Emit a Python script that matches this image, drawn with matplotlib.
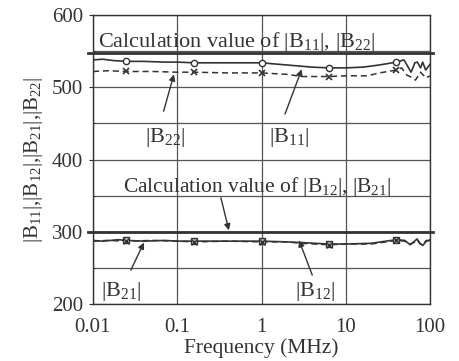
import matplotlib
matplotlib.use("Agg")
import matplotlib.pyplot as plt

plt.rcParams['font.family'] = ['Liberation Serif', 'DejaVu Serif']
plt.rcParams['mathtext.fontset'] = 'custom'
plt.rcParams['mathtext.rm'] = 'Liberation Serif'
plt.rcParams['mathtext.it'] = 'Liberation Serif:italic'

# measured |B11| (solid) and |B22| (dashed)
freq_b11 = [0.01, 0.013, 0.018, 0.025, 0.04, 0.07, 0.1, 0.16, 0.3, 0.6, 1.0, 2.0, 4.0,
            6.3, 10, 16, 25, 40, 49, 59.5, 66, 70.6, 77, 81.6, 88.6, 94, 100]
b11 = [538, 539, 537, 536, 536, 535, 535, 534, 534, 534, 534, 531, 528,
       527, 527, 528, 531, 535, 538, 521, 534, 535, 527, 535, 524, 528, 532]

freq_b22 = [0.01, 0.015, 0.025, 0.05, 0.1, 0.16, 0.4, 1.0, 2.0, 3.0, 6.3, 10, 18,
            25, 40, 46, 53, 60, 67, 77, 83, 89, 100]
b22 = [522, 523, 522, 522, 521, 521, 520, 520, 518, 515, 515, 516, 516,
       520, 524, 527, 517, 514, 510, 521, 517, 513, 516]

# measured |B12| (solid) and |B21| (dashed)
freq_b12 = [0.01, 0.013, 0.02, 0.025, 0.04, 0.07, 0.1, 0.16, 0.4, 1.0, 2.0, 3.0,
            6.3, 10, 20, 30, 40, 50, 58, 64, 70, 76, 82, 90, 100]
b12 = [288, 287, 289, 288, 287, 288, 287, 287, 287, 287, 286, 285,
       283, 283, 284, 287, 289, 288, 282, 286, 290, 284, 281, 287, 289]
freq_b21 = [0.01, 0.015, 0.025, 0.05, 0.1, 0.16, 0.4, 1.0, 2.0, 3.0, 6.3, 10, 20,
            30, 40, 50, 58, 64, 70, 76, 82, 90, 100]
b21 = [287, 288, 287, 288, 287, 286, 287, 286, 286, 284, 282, 283, 283,
       286, 288, 287, 283, 285, 289, 283, 282, 288, 287]

# marker positions (every 0.8 decade)
freq_marks = [0.025, 0.158, 1.0, 6.3, 39.8]
b11_marks = [536, 534, 534, 527, 535]
b22_marks = [522, 521, 520, 515, 524]
b12_marks = [288, 287, 287, 283, 289]
b21_marks = [287, 286, 286, 282, 288]

calc_b11 = 547
calc_b12 = 300

x_ticks = [0.01, 0.1, 1, 10, 100]
x_labels = ["0.01", "0.1", "1", "10", "100"]
y_ticks = [200, 300, 400, 500, 600]

ink = "#333333"

fig = plt.figure(figsize=(4.6, 3.61), dpi=100)
ax = fig.add_axes([0.202, 0.158, 0.733, 0.8])

ax.set_xscale("log")
ax.set_xlim(0.01, 100)
ax.set_ylim(200, 600)
ax.set_xticks(x_ticks)
ax.set_xticklabels(x_labels)
ax.minorticks_off()
ax.set_yticks(y_ticks)
ax.set_yticks([250, 350, 450, 550], minor=True)
ax.grid(True, which="both", color="#555555", linewidth=0.9)
ax.set_axisbelow(True)
for s in ax.spines.values():
    s.set_color(ink)
    s.set_linewidth(1.0)
ax.tick_params(axis="both", which="major", labelsize=15, colors=ink,
               direction="out", length=3, pad=4)
ax.tick_params(axis="y", which="minor", length=2, direction="in", colors=ink)
ax.tick_params(axis="x", length=0, pad=10)

# calculated values, drawn a little past both spines
ax.axhline(calc_b11, xmin=-0.015, xmax=1.01, color=ink, linewidth=2.0, clip_on=False)
ax.axhline(calc_b12, xmin=-0.015, xmax=1.01, color=ink, linewidth=2.0, clip_on=False)

ax.plot(freq_b11, b11, color=ink, linewidth=1.2)
ax.plot(freq_b22, b22, color=ink, linewidth=1.1, linestyle=(0, (4, 2.5)))
ax.plot(freq_b12, b12, color=ink, linewidth=1.2)
ax.plot(freq_b21, b21, color=ink, linewidth=1.1, linestyle=(0, (4, 2.5)))

ax.plot(freq_marks, b11_marks, "o", color=ink, markerfacecolor="white",
        markersize=4.5, markeredgewidth=1.0, linestyle="none")
ax.plot(freq_marks, b22_marks, "x", color=ink, markersize=5,
        markeredgewidth=1.2, linestyle="none")
ax.plot(freq_marks, b12_marks, "s", color=ink, markerfacecolor="#bbbbbb",
        markersize=5, markeredgewidth=1.0, linestyle="none")
ax.plot(freq_marks, b21_marks, "x", color=ink, markersize=4,
        markeredgewidth=1.0, linestyle="none")

ax.text(0.0114, 556, "Calculation value of |B$_{11}$|, |B$_{22}$|",
        fontsize=16, color=ink, va="baseline", ha="left")
ax.text(0.88, 355, "Calculation value of |B$_{12}$|, |B$_{21}$|",
        fontsize=15.5, color=ink, va="baseline", ha="center")

arrow = dict(arrowstyle="-|>", color=ink, linewidth=1.0, mutation_scale=9,
             shrinkA=0, shrinkB=0)
label_kw = dict(fontsize=16, color=ink, ha="center", va="center")

ax.text(0.0716, 431, "|B$_{22}$|", **label_kw)
ax.annotate("", xy=(0.0914, 518), xytext=(0.069, 467), arrowprops=arrow)
ax.text(2.12, 431, "|B$_{11}$|", **label_kw)
ax.annotate("", xy=(3.0, 525), xytext=(1.9, 463), arrowprops=arrow)
ax.annotate("", xy=(0.41, 302), xytext=(0.33, 347), arrowprops=arrow)
ax.text(0.0215, 217, "|B$_{21}$|", **label_kw)
ax.annotate("", xy=(0.0403, 285), xytext=(0.0282, 247), arrowprops=arrow)
ax.text(4.3, 217, "|B$_{12}$|", **label_kw)
ax.annotate("", xy=(2.79, 288), xytext=(4.0, 240), arrowprops=arrow)

ax.set_xlabel("Frequency (MHz)", fontsize=15.5, color=ink, labelpad=1)
ax.set_ylabel("|B$_{11}$|,|B$_{12}$|,|B$_{21}$|,|B$_{22}$|",
              fontsize=15, color=ink, labelpad=5)

fig.savefig("out.png", dpi=100)
